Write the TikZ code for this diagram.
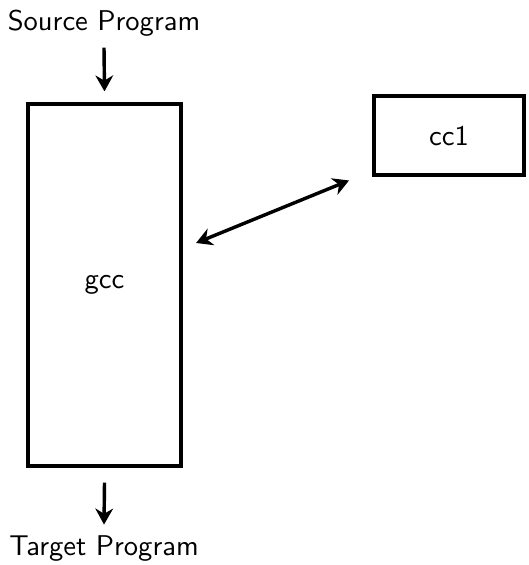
\documentclass[tikz,border=0pt]{standalone}
\usetikzlibrary{arrows.meta}
\begin{document}
\begin{tikzpicture}[x=0.35pt,y=-0.35pt,
  every node/.style={font=\sffamily},
  txt/.style={inner sep=0pt},
  boxnode/.style={draw,line width=1.4pt,inner sep=0pt},
  conn/.style={line width=1.2pt,-{Stealth[length=5.6pt,width=6.2pt]}},
  dconn/.style={line width=1.2pt,{Stealth[length=5.6pt,width=6.2pt]}-{Stealth[length=5.6pt,width=6.2pt]}}]
\useasboundingbox (0,0) rectangle (528,565);
\node[txt] (src) at (104,23) {Source Program};
\node[boxnode,minimum width=53.6pt,minimum height=126.4pt] (gcc) at (104.5,285) {gcc};
\node[boxnode,minimum width=52.5pt,minimum height=27.6pt] (cc1) at (449,135.5) {cc1};
\node[txt] (tgt) at (104,549) {Target Program};
\draw[conn] ([shift={(0,11)}]src.south) -- ([shift={(0,-11)}]gcc.north);
\draw[conn] ([shift={(0,15)}]gcc.south) -- ([shift={(0,-11)}]tgt.north);
\draw[dconn] ([shift={(13,-42)}]gcc.east) -- ([shift={(-23,45)}]cc1.west);
\end{tikzpicture}
\end{document}
